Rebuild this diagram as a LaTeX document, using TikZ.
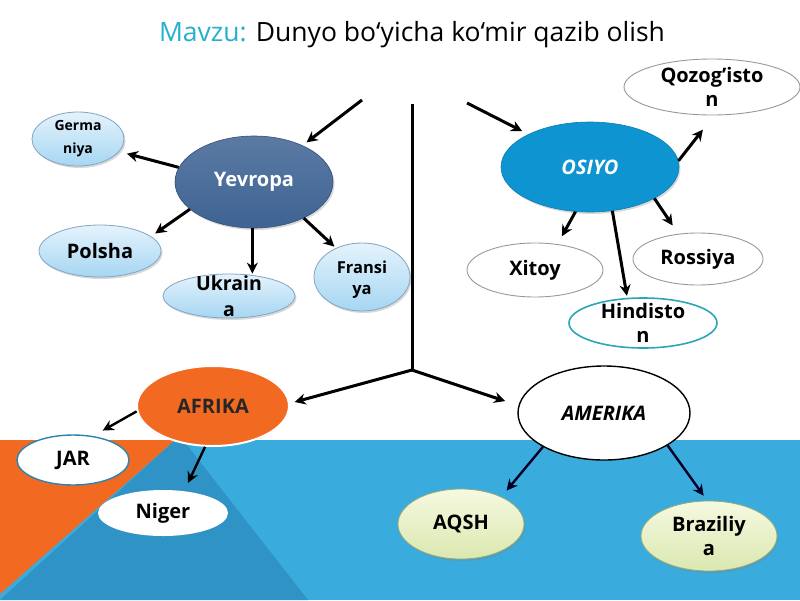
\documentclass[tikz,border=0pt]{standalone}
\usepackage{fontspec}
\setmainfont{Open Sans}
\usetikzlibrary{shapes.geometric,arrows.meta,shadows}
\definecolor{bgblue}{RGB}{57,172,221}
\definecolor{dkblue}{RGB}{47,147,197}
\definecolor{orng}{RGB}{242,106,33}
\definecolor{yevc}{RGB}{62,99,147}
\definecolor{osic}{RGB}{13,148,209}
\definecolor{ltop}{RGB}{228,243,252}
\definecolor{lbot}{RGB}{166,214,242}
\definecolor{lbord}{RGB}{130,165,195}
\definecolor{gtop}{RGB}{246,249,224}
\definecolor{gbot}{RGB}{218,232,176}
\definecolor{gbord}{RGB}{150,170,120}
\definecolor{teal}{RGB}{42,166,184}
\definecolor{mavzu}{RGB}{38,176,205}
\begin{document}
\begin{tikzpicture}[x=1pt,y=-1pt,
  ell/.style={ellipse, inner sep=0pt},
  shd/.style={drop shadow={opacity=0.3, shadow xshift=1.5pt, shadow yshift=-2pt}},
  lblue/.style={ell, shd, top color=ltop, bottom color=lbot, draw=lbord, line width=0.8pt},
  wnode/.style={ell, fill=white, draw=gray!80, line width=0.9pt},
  gnode/.style={ell, shd, top color=gtop, bottom color=gbot, draw=gbord, line width=0.8pt},
  lab/.style={font=\bfseries\fontsize{20}{24.5}\selectfont, align=center, inner sep=0pt},
  arr/.style={line width=3pt, -{Stealth[length=11pt,width=11pt]}},
  ln/.style={line width=3pt}
]
\useasboundingbox (0,0) rectangle (800,600);
% background
\fill[white] (0,0) rectangle (800,600);
\fill[bgblue] (0,440) rectangle (800,600);
\fill[dkblue] (175,440) -- (183,440) -- (308,600) -- (0,600) -- cycle;
\fill[orng] (0,440) -- (175,440) -- (0,594) -- cycle;

% title
\node[font=\fontsize{26.5}{30}\selectfont, inner sep=0pt] (title) at (412,35)
  {\textcolor{mavzu}{Mavzu:} Dunyo bo‘yicha ko‘mir qazib olish};

% Europe
\node[ell, shd, top color=yevc!85!white, bottom color=yevc, draw=yevc!80!black, line width=0.6pt,
  minimum width=158pt, minimum height=92pt] (yev) at (254,182) {};
\node[lab, text=white] at (yev) {Yevropa};
\node[lblue, minimum width=92pt, minimum height=54pt] (ger) at (78,139) {};
\node[lab, font=\bfseries\fontsize{14}{23}\selectfont] at (ger) {Germa\\niya};
\node[lblue, minimum width=122pt, minimum height=52pt] (pol) at (100,251) {};
\node[lab] at (pol) {Polsha};
\node[lblue, minimum width=132pt, minimum height=44pt] (ukr) at (229,296) {};
\node[lab, font=\bfseries\fontsize{19.5}{26}\selectfont] at (ukr) {Ukrain\\a};
\node[lblue, minimum width=96pt, minimum height=68pt] (fra) at (362,277) {};
\node[lab, font=\bfseries\fontsize{16.5}{21}\selectfont] at ([yshift=-3pt]fra.center) {Fransi\\ya};

% Asia
\node[ell, shd, fill=osic, draw=osic!85!black, line width=0.6pt,
  minimum width=178pt, minimum height=90pt] (osi) at (590,167) {};
\node[lab, text=white, font=\bfseries\itshape\fontsize{20}{24}\selectfont] at (osi) {OSIYO};
\node[wnode, minimum width=176pt, minimum height=56pt] (qoz) at (712,87) {};
\node[lab] at (qoz) {Qozog’isto\\n};
\node[wnode, minimum width=136pt, minimum height=54pt] (xit) at (535,270) {};
\node[lab] at (xit) {Xitoy};
\node[wnode, minimum width=130pt, minimum height=52pt] (ros) at (698,259) {};
\node[lab] at (ros) {Rossiya};
\node[ell, fill=white, draw=teal, line width=1.6pt, minimum width=148pt, minimum height=50pt] (hin) at (643,323) {};
\node[lab] at (hin) {Hindisto\\n};

% Africa
\node[ell, drop shadow={opacity=0.35, shadow xshift=0pt, shadow yshift=-1pt}, fill=orng, draw=white, line width=2pt,
  minimum width=152pt, minimum height=80pt] (afr) at (213,406) {};
\node[lab, text=black!85] at (afr) {AFRIKA};
\node[ell, fill=white, draw=dkblue!90!black, line width=1.4pt, minimum width=112pt, minimum height=50pt] (jar) at (73,460) {};
\node[lab] at (jar) {JAR};
\node[ell, fill=white, minimum width=130pt, minimum height=46pt] (nig) at (163,513) {};
\node[lab] at (nig) {Niger};

% America
\node[ell, fill=white, draw=black, line width=1.4pt, minimum width=172pt, minimum height=94pt] (ame) at (604,413) {};
\node[lab, font=\bfseries\itshape\fontsize{20}{24}\selectfont] at (ame) {AMERIKA};
\node[gnode, minimum width=126pt, minimum height=70pt] (aqs) at (461,524) {};
\node[lab] at (aqs) {AQSH};
\node[gnode, minimum width=136pt, minimum height=70pt] (bra) at (709,536) {};
\node[lab] at (bra) {Braziliy\\a};

% trunk
\coordinate (top) at (412,104);
\coordinate (fork) at (412,370);
\coordinate (yl) at (362,100);
\coordinate (ol) at (467,103);
\draw[ln] (top) -- (fork);
\draw[arr, shorten >=5pt] (fork) -- (afr.2);
\draw[arr, shorten >=14pt] (fork) -- (ame.175);
\draw[arr, shorten >=5pt] (yl) -- (yev.37);
\draw[arr, shorten >=7pt] (ol) -- (osi.152);

% Europe arrows
\draw[arr, shorten >=8pt] (yev.169) -- (ger.-17);
\draw[arr, shorten >=5pt] (yev.203) -- (pol.16);
\draw[arr] (yev.-92) -- (yev.-92 |- ukr.north);
\draw[arr, shorten >=2pt] (yev.-36) -- (fra.132);

% Asia arrows
\draw[arr, shorten >=18pt] (osi.4) -- (qoz.-86);
\draw[arr, shorten >=9pt] (osi.-108) -- (xit.49);
\draw[arr, shorten >=2pt] (osi.-63) -- (hin.122);
\draw[arr, shorten >=10pt] (osi.-26) -- (ros.128);

% Africa arrows
\draw[arr, line width=2.4pt, shorten >=11pt] (afr.184) -- (jar.50);
\draw[arr, line width=2.4pt, shorten >=9pt] (afr.-101) -- (nig.46);

% America arrows
\draw[arr, line width=2.4pt, draw=black!85!blue, shorten >=8pt] (ame.-151) -- (aqs.34);
\draw[arr, line width=2.4pt, draw=black!85!blue, shorten >=6pt] (ame.-27) -- (bra.93);
\end{tikzpicture}
\end{document}
